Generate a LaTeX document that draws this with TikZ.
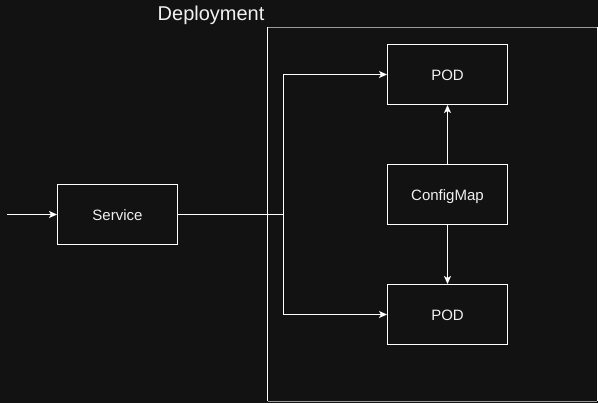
\documentclass[tikz,border=0pt]{standalone}
\usepackage{fontspec}
\setmainfont{Liberation Sans}
\usetikzlibrary{arrows.meta}
\definecolor{bg}{HTML}{121212}
\definecolor{fg}{HTML}{F0F0F0}
\definecolor{edgegray}{HTML}{9A9A9A}
\begin{document}
\begin{tikzpicture}[x=1pt,y=-1pt,
  box/.style={draw=white, line width=1pt, fill=bg, minimum width=120pt, minimum height=60pt,
    inner sep=0pt, text=fg, font=\fontsize{15}{18}\selectfont, text height=12pt, text depth=0pt},
  conn/.style={draw=white, line width=1pt},
  arr/.style={conn, -{Stealth[length=8pt,width=7pt,inset=2pt]}}]
\fill[bg] (0,0) rectangle (598,403);
\useasboundingbox (0,0) rectangle (598,403);
% Deployment frame
\draw[edgegray, line width=1pt] (267.5,27.5) -- (597,27.5);
\draw[edgegray, line width=1pt] (267.5,401.5) -- (597,401.5);
\draw[white, line width=1pt] (267.5,27.5) -- (267.5,401.5);
\draw[white, line width=1pt] (597,27.5) -- (597,401.5);
\node[text=fg, font=\fontsize{20}{24}\selectfont, anchor=base west, inner sep=0pt] (dep) at (157.5,20.5) {Deployment};
% boxes
\node[box] (svc) at (117.5,214.5) {Service};
\node[box] (pod1) at (447.5,74.5) {POD};
\node[box] (cfg) at (447.5,194.5) {ConfigMap};
\node[box] (pod2) at (447.5,314.5) {POD};
\coordinate (in) at (7,214.5);
\coordinate (j) at (283.5,214.5);
% connectors
\draw[arr] (in) -- (svc.west);
\draw[conn] (svc.east) -- (j);
\draw[arr] (j) |- (pod1.west);
\draw[arr] (j) |- (pod2.west);
\draw[arr] (cfg.north) -- (pod1.south);
\draw[arr] (cfg.south) -- (pod2.north);
\end{tikzpicture}
\end{document}
